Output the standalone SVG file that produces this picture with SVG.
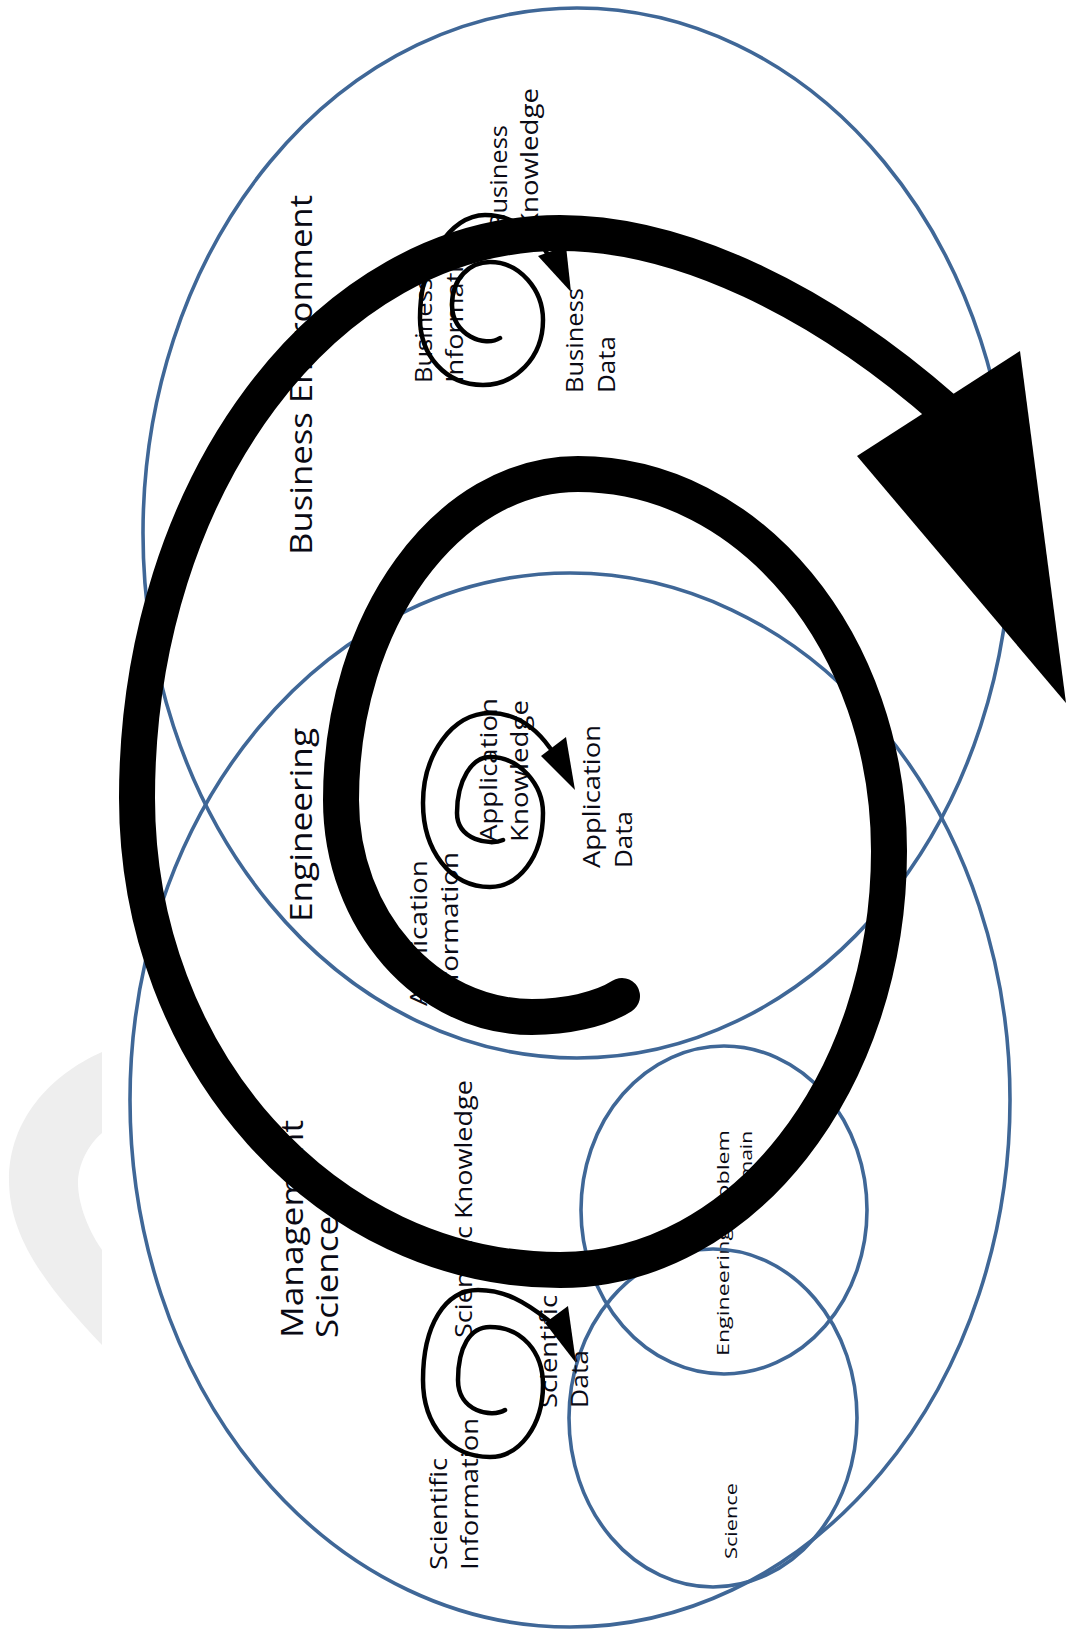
<svg xmlns="http://www.w3.org/2000/svg" width="1068" height="1636" viewBox="0 0 1068 1636">
<style>
.ell{fill:none;stroke:#3f6797;stroke-width:3.6}
text{font-family:"Open Sans","Liberation Sans",sans-serif;fill:#0a0a14}
.lg{font-size:31px}
.md{font-size:24px}
.sm{font-size:17px}
.big{fill:none;stroke:#000;stroke-width:36;stroke-linecap:round}
.thin{fill:none;stroke:#000;stroke-width:4.5;stroke-linecap:round}
.head{fill:#000}
</style>
<rect width="1068" height="1636" fill="#fff"/>
<path d="M102,1052 C50,1075 9,1120 9,1180 C9,1240 50,1290 102,1345 L102,1250 C85,1225 78,1200 78,1183 C78,1165 88,1145 102,1133 Z" fill="#eeeeee"/>
<g id="business-environment">
<ellipse class="ell" cx="577" cy="533" rx="434" ry="525"/>
<text class="lg" transform="translate(312,555) rotate(-90)" textLength="360" lengthAdjust="spacingAndGlyphs">Business Environment</text>
</g>
<g id="management-science">
<ellipse class="ell" cx="570" cy="1100" rx="440" ry="527"/>
<text class="lg" transform="translate(303,1338) rotate(-90)" textLength="218" lengthAdjust="spacingAndGlyphs">Management</text>
<text class="lg" transform="translate(338,1338) rotate(-90)" textLength="122" lengthAdjust="spacingAndGlyphs">Science</text>
</g>
<g id="engineering">
<text class="lg" transform="translate(312,922) rotate(-90)" textLength="194" lengthAdjust="spacingAndGlyphs">Engineering</text>
</g>
<g id="engineering-problem-domain">
<ellipse class="ell" cx="724" cy="1210" rx="143" ry="164"/>
<text class="sm" transform="translate(729,1356) rotate(-90)" textLength="226" lengthAdjust="spacingAndGlyphs">Engineering Problem</text>
<text class="sm" text-anchor="end" transform="translate(752,1131) rotate(-90)" textLength="77" lengthAdjust="spacingAndGlyphs">Domain</text>
</g>
<g id="science">
<ellipse class="ell" cx="713" cy="1418" rx="144" ry="169"/>
<text class="sm" transform="translate(737,1559) rotate(-90)" textLength="76" lengthAdjust="spacingAndGlyphs">Science</text>
</g>
<g id="business-information">
<text class="md" transform="translate(432,383) rotate(-90)" textLength="105" lengthAdjust="spacingAndGlyphs">Business</text>
<text class="md" transform="translate(463,383) rotate(-90)" textLength="150" lengthAdjust="spacingAndGlyphs">Information</text>
</g>
<g id="business-knowledge">
<text class="md" transform="translate(507,230) rotate(-90)" textLength="105" lengthAdjust="spacingAndGlyphs">Business</text>
<text class="md" transform="translate(538,230) rotate(-90)" textLength="142" lengthAdjust="spacingAndGlyphs">Knowledge</text>
</g>
<g id="business-data">
<text class="md" transform="translate(583,393) rotate(-90)" textLength="105" lengthAdjust="spacingAndGlyphs">Business</text>
<text class="md" transform="translate(615,393) rotate(-90)" textLength="57" lengthAdjust="spacingAndGlyphs">Data</text>
</g>
<g id="application-knowledge">
<text class="md" transform="translate(497,842) rotate(-90)" textLength="144" lengthAdjust="spacingAndGlyphs">Application</text>
<text class="md" transform="translate(528,842) rotate(-90)" textLength="142" lengthAdjust="spacingAndGlyphs">Knowledge</text>
</g>
<g id="application-data">
<text class="md" transform="translate(600,868) rotate(-90)" textLength="143" lengthAdjust="spacingAndGlyphs">Application</text>
<text class="md" transform="translate(632,868) rotate(-90)" textLength="57" lengthAdjust="spacingAndGlyphs">Data</text>
</g>
<g id="application-information">
<text class="md" transform="translate(427,1006) rotate(-90)" textLength="146" lengthAdjust="spacingAndGlyphs">Application</text>
<text class="md" transform="translate(458,1006) rotate(-90)" textLength="154" lengthAdjust="spacingAndGlyphs">Information</text>
</g>
<g id="scientific-knowledge">
<text class="md" transform="translate(472,1338) rotate(-90)" textLength="258" lengthAdjust="spacingAndGlyphs">Scientific Knowledge</text>
</g>
<g id="scientific-data">
<text class="md" transform="translate(557,1408) rotate(-90)" textLength="113" lengthAdjust="spacingAndGlyphs">Scientific</text>
<text class="md" transform="translate(588,1408) rotate(-90)" textLength="58" lengthAdjust="spacingAndGlyphs">Data</text>
</g>
<g id="scientific-information">
<text class="md" transform="translate(447,1570) rotate(-90)" textLength="112" lengthAdjust="spacingAndGlyphs">Scientific</text>
<text class="md" transform="translate(478,1570) rotate(-90)" textLength="152" lengthAdjust="spacingAndGlyphs">Information</text>
</g>
<g id="connectors">
<path class="thin" d="M500,338 C485,348 452,335 452,305 C452,278 470,262 490,262 C520,262 543,290 543,320 C543,358 515,385 483,385 C445,385 420,355 420,318 C420,262 450,215 485,215 C518,215 540,238 552,262"/>
<polygon class="head" points="538,256 566,246 571,292"/>
<path class="thin" d="M503,840 C490,846 457,840 457,813 C457,780 472,757 490,757 C520,757 543,785 543,813 C543,858 518,887 490,887 C450,887 423,850 423,803 C423,755 452,713 490,713 C515,713 535,727 550,748"/>
<polygon class="head" points="541,756 566,737 575,790"/>
<path class="thin" d="M505,1410 C492,1418 458,1412 458,1380 C458,1347 470,1327 490,1327 C522,1327 543,1352 543,1385 C543,1425 520,1457 490,1457 C450,1457 423,1425 423,1380 C423,1325 445,1290 478,1290 C505,1290 525,1302 548,1320"/>
<polygon class="head" points="545,1323 568,1306 576,1363"/>
<path class="big" d="M622,996 C600,1010 565,1017 532,1017 C427,1017 341,920 341,800 C341,620 447,474 578,474 C750,474 889,643 889,851 C889,1082 742,1270 560,1270 C326,1270 137,1059 137,798 C137,486 326,233 560,233 C680,233 820,300 945,410"/>
<polygon class="head" points="857,456 1020,351 1066,703"/>
</g>
</svg>
